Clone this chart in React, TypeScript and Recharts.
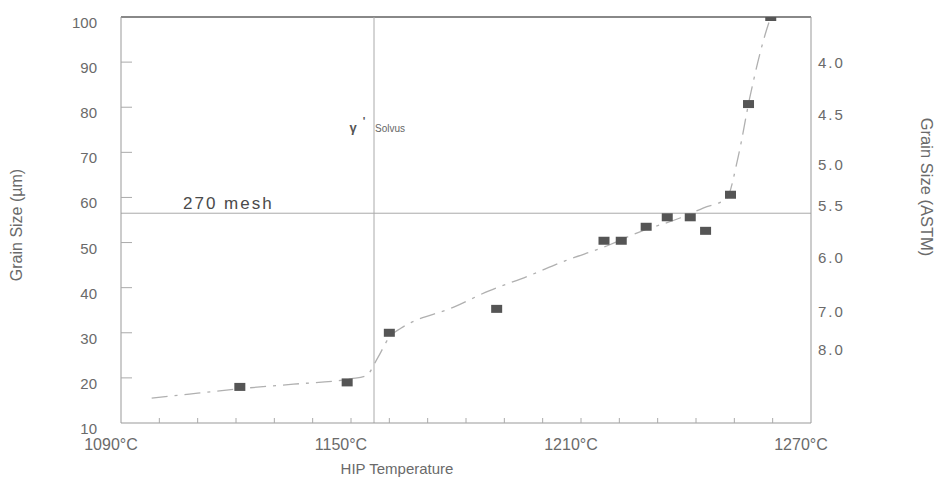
import { ComposedChart, XAxis, YAxis, Line, Scatter, ReferenceLine } from "recharts";

// measured grain size vs HIP temperature
const hipTemp = [1121, 1149, 1160, 1188, 1216, 1220.5, 1227, 1232.5, 1238.5, 1242.5, 1249, 1253.7, 1259.5];
const grainUm = [18, 19, 30, 35.3, 50.4, 50.4, 53.5, 55.6, 55.6, 52.6, 60.6, 80.7, 100];

// hand-drawn trend curve
const fitTemp = [1098, 1110, 1121, 1135, 1150, 1154, 1157, 1160, 1163, 1166, 1176, 1186, 1196, 1206, 1216, 1226, 1236, 1242, 1248, 1251, 1254, 1258, 1259.5];
const fitGrain = [15.5, 16.6, 17.6, 18.6, 19.8, 20.5, 24.5, 29, 31, 32.4, 35.4, 39.3, 42.5, 46, 49, 52.6, 55.5, 57.7, 59.8, 69, 82, 96, 100];

const umTicks = [10, 20, 30, 40, 50, 60, 70, 80, 90, 100];
const tempTicks = [1090, 1100, 1110, 1120, 1130, 1140, 1150, 1160, 1170, 1180, 1190, 1200, 1210, 1220, 1230, 1240, 1250, 1260, 1270];
const tempLabels = [1090, 1150, 1210, 1270];
const astmAt = [89.8, 78.3, 67.2, 58.1, 46.6, 34.6, 26.2];
const astmLabels = ["4.0", "4.5", "5.0", "5.5", "6.0", "7.0", "8.0"];

const solvusTemp = 1156;
const meshUm = 56.5;

const points = hipTemp.map((t, i) => ({ t, g: grainUm[i] }));
const fit = fitTemp.map((t, i) => ({ t, g: fitGrain[i] }));

const FONT = "'Liberation Sans', Arial, sans-serif";
const TEXT = "#6a6a6a";
const AXIS = "#999";

function LeftTick(props: any) {
  const { x, y, payload } = props;
  const v = payload.value;
  return (
    <g>
      {v > 10 && v < 100 && <line x1={x + 24} x2={x + 35} y1={y} y2={y} stroke="#aaa" />}
      <text x={x} y={y} dy={11} textAnchor="end" fill={TEXT} fontSize={15} fontFamily={FONT}>
        {v}
      </text>
    </g>
  );
}

function BottomTick(props: any) {
  const { x, y, payload } = props;
  const v = payload.value;
  const axisY = y - 4;
  return (
    <g>
      {v > 1090 && v < 1270 && <line x1={x} x2={x} y1={axisY} y2={axisY - 5} stroke="#aaa" />}
      {tempLabels.includes(v) && (
        <text x={x - 10} y={axisY + 27} textAnchor="middle" fill={TEXT} fontSize={16} fontFamily={FONT}>
          {v}°C
        </text>
      )}
    </g>
  );
}

export default function App() {
  return (
    <div style={{ position: "absolute", left: 0, top: 0, background: "#fff" }}>
      <ComposedChart width={936} height={485} margin={{ top: 17, right: 0, bottom: 0, left: 0 }}>
        <XAxis
          dataKey="t"
          type="number"
          domain={[1090, 1270]}
          ticks={tempTicks}
          interval={0}
          height={62}
          tickSize={0}
          tickMargin={4}
          tickLine={false}
          stroke={AXIS}
          tick={<BottomTick />}
          label={(p: any) => (
            <text
              x={p.viewBox.x + p.viewBox.width * 0.4}
              y={p.viewBox.y + 51}
              textAnchor="middle"
              fill={TEXT}
              fontSize={15}
              fontFamily={FONT}
            >
              HIP Temperature
            </text>
          )}
        />
        <YAxis
          yAxisId="um"
          orientation="left"
          type="number"
          domain={[10, 100]}
          ticks={umTicks}
          interval={0}
          width={121}
          tickSize={0}
          tickMargin={24}
          tickLine={false}
          stroke={AXIS}
          allowDataOverflow
          tick={<LeftTick />}
          label={(p: any) => (
            <text
              x={18}
              y={p.viewBox.y + 208}
              transform={`rotate(-90 18 ${p.viewBox.y + 208})`}
              textAnchor="middle"
              dominantBaseline="middle"
              fill={TEXT}
              fontSize={16}
              fontFamily={FONT}
            >
              Grain Size (µm)
            </text>
          )}
        />
        <YAxis
          yAxisId="astm"
          orientation="right"
          type="number"
          domain={[10, 100]}
          ticks={astmAt}
          interval={0}
          width={125}
          tickSize={0}
          tickMargin={7}
          tickLine={false}
          stroke={AXIS}
          allowDataOverflow
          tick={{ fill: TEXT, fontSize: 15, fontFamily: FONT, letterSpacing: 2 }}
          tickFormatter={(v: number) => astmLabels[astmAt.indexOf(v)] ?? ""}
          label={() => (
            <text
              x={925}
              y={187}
              transform="rotate(90 925 187)"
              textAnchor="middle"
              dominantBaseline="middle"
              fill={TEXT}
              fontSize={16.5}
              fontFamily={FONT}
            >
              Grain Size (ASTM)
            </text>
          )}
        />

        <ReferenceLine yAxisId="um" y={100} stroke="#888" strokeWidth={1.8} />
        <ReferenceLine
          yAxisId="um"
          y={meshUm}
          stroke="#aaa"
          label={(p: any) => (
            <text x={p.viewBox.x + 62} y={p.viewBox.y - 4} fill="#4a4a4a" fontSize={17} fontFamily={FONT} letterSpacing={2}>
              270 mesh
            </text>
          )}
        />
        <ReferenceLine
          yAxisId="um"
          x={solvusTemp}
          stroke="#aaa"
          label={(p: any) => (
            <g fontFamily={FONT}>
              <text x={p.viewBox.x - 21} y={p.viewBox.y + 115} textAnchor="middle" fill="#555" fontSize={13} fontWeight="bold">
                γ
              </text>
              <text x={p.viewBox.x - 10} y={p.viewBox.y + 108} textAnchor="middle" fill="#555" fontSize={11} fontWeight="bold">
                '
              </text>
              <text x={p.viewBox.x + 1} y={p.viewBox.y + 115} fill="#666" fontSize={10}>
                Solvus
              </text>
            </g>
          )}
        />

        <Line
          yAxisId="um"
          data={fit}
          dataKey="g"
          type="monotone"
          stroke="#b0b0b0"
          strokeWidth={1.3}
          strokeDasharray="16 7 3 7"
          dot={false}
          activeDot={false}
          isAnimationActive={false}
        />
        <Scatter
          yAxisId="um"
          data={points}
          dataKey="g"
          isAnimationActive={false}
          shape={(p: any) => <rect x={p.cx - 5.5} y={p.cy - 4} width={11} height={8} fill="#555" />}
        />
      </ComposedChart>
    </div>
  );
}
